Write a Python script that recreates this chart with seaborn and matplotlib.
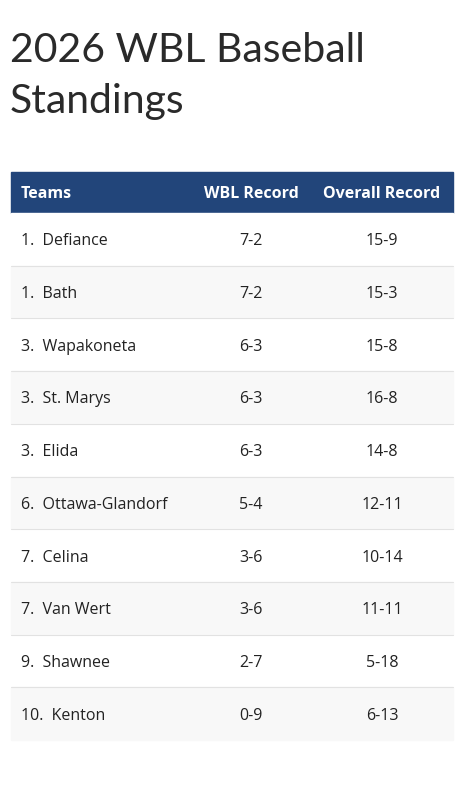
import matplotlib
matplotlib.use("Agg")
import matplotlib.pyplot as plt
import seaborn as sns
from matplotlib.patches import Rectangle

sns.set_theme(style="white")
plt.rcParams['font.family'] = ['Open Sans', 'DejaVu Sans']

title_lines = ["2026 WBL Baseball", "Standings"]
headers = ["Teams", "WBL Record", "Overall Record"]
ranks = ["1.", "1.", "3.", "3.", "3.", "6.", "7.", "7.", "9.", "10."]
teams = ["Defiance", "Bath", "Wapakoneta", "St. Marys", "Elida",
         "Ottawa-Glandorf", "Celina", "Van Wert", "Shawnee", "Kenton"]
wbl = ["7-2", "7-2", "6-3", "6-3", "6-3", "5-4", "3-6", "3-6", "2-7", "0-9"]
overall = ["15-9", "15-3", "15-8", "16-8", "14-8", "12-11", "10-14", "11-11", "5-18", "6-13"]

W, H = 471, 787
fig = plt.figure(figsize=(W/100, H/100), dpi=100)
ax = fig.add_axes([0, 0, 1, 1])
ax.set_xlim(0, W); ax.set_ylim(H, 0); ax.axis("off")

for k, line in enumerate(title_lines):
    ax.text(10, 50 + 52*k, line, fontsize=29.5, family=['Lato', 'DejaVu Sans'],
            fontweight='normal', color='#2a2a2a', va='center')

x0, x1 = 11, 453
top, hh, rh = 172, 41, 52.7
fs = 11.5
ax.add_patch(Rectangle((x0, top), x1-x0, hh, color='#22457a'))
ax.text(21, top+hh/2+1, headers[0], color='white', fontsize=fs, fontweight='bold', va='center')
ax.text(251, top+hh/2+1, headers[1], color='white', fontsize=fs, fontweight='bold', va='center', ha='center')
ax.text(382, top+hh/2+1, headers[2], color='white', fontsize=fs, fontweight='bold', va='center', ha='center')

for i in range(len(teams)):
    y = top + hh + i*rh
    ax.add_patch(Rectangle((x0, y), x1-x0, rh, color='#f8f8f8' if i % 2 else 'white'))
    if i > 0:
        ax.plot([x0, x1], [y, y], color='#e2e2e2', lw=0.8)
    cy = y + rh/2 + 2
    ax.text(21, cy, f"{ranks[i]}  {teams[i]}", fontsize=fs, color='#222222', va='center')
    ax.text(251, cy, wbl[i], fontsize=fs, color='#222222', va='center', ha='center')
    ax.text(382, cy, overall[i], fontsize=fs, color='#222222', va='center', ha='center')

fig.savefig("out.png", dpi=100, facecolor='white')
